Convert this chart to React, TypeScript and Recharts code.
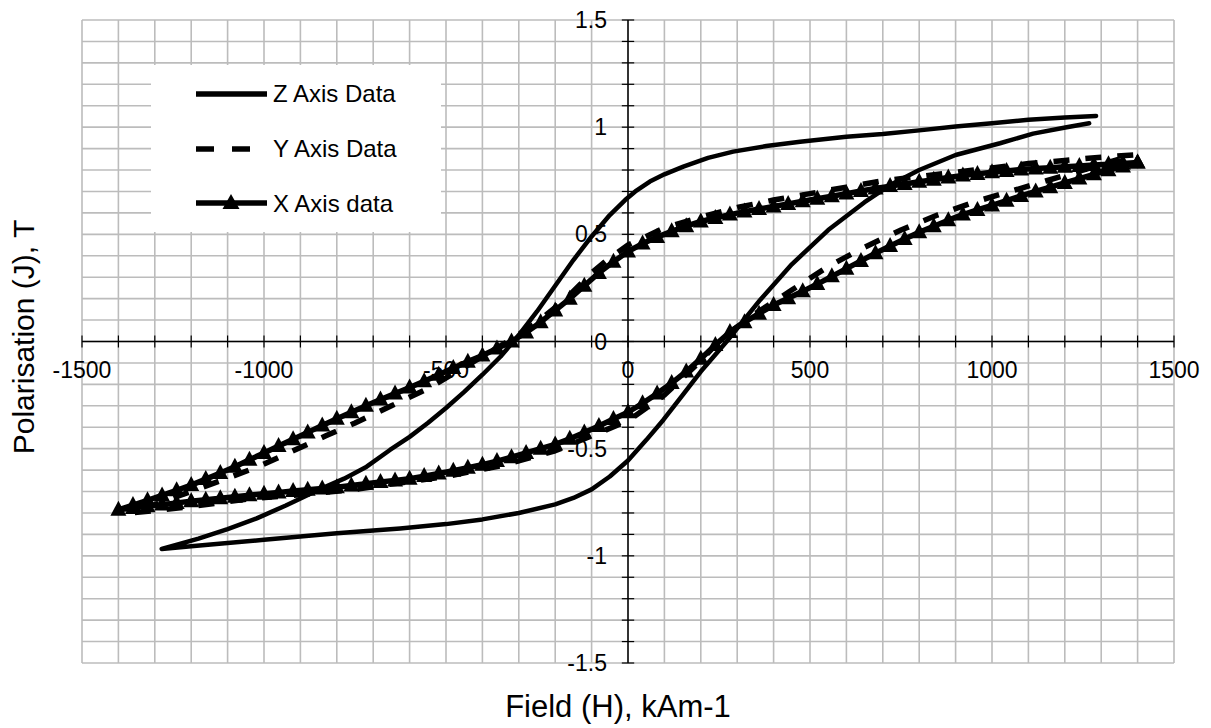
import React from 'react';
import { LineChart, Line, XAxis, YAxis, CartesianGrid, ReferenceLine, ReferenceDot } from 'recharts';

const FONT = '"Liberation Sans", Arial, Helvetica, sans-serif';

// grid / tick positions
const xGridTicks = [-1500, -1400, -1300, -1200, -1100, -1000, -900, -800, -700, -600, -500, -400, -300, -200, -100, 0, 100, 200, 300, 400, 500, 600, 700, 800, 900, 1000, 1100, 1200, 1300, 1400, 1500];
const yGridTicks = [-1.5, -1.4, -1.3, -1.2, -1.1, -1.0, -0.9, -0.8, -0.7, -0.6, -0.5, -0.4, -0.3, -0.2, -0.1, 0, 0.1, 0.2, 0.3, 0.4, 0.5, 0.6, 0.7, 0.8, 0.9, 1.0, 1.1, 1.2, 1.3, 1.4, 1.5];
const xLabelValues = [-1500, -1000, -500, 0, 500, 1000, 1500];
const xLabelTexts = ['-1500', '-1000', '-500', '0', '500', '1000', '1500'];
const yLabelValues = [-1.5, -1, -0.5, 0, 0.5, 1, 1.5];
const yLabelTexts = ['-1.5', '-1', '-0.5', '0', '0.5', '1', '1.5'];

// Z Axis Data (solid) : upper branch (descending field) then lower branch (ascending field)
const zUpperH = [1286, 1200, 1100, 1000, 900, 800, 700, 600, 473, 380, 289, 220, 152, 100, 60, 20, -8, -50, -100, -150, -200, -250, -300, -350, -400, -450, -500, -550, -600, -654, -718, -780, -855, -940, -1020, -1100, -1180, -1281];
const zUpperJ = [1.052, 1.045, 1.035, 1.018, 1.003, 0.985, 0.968, 0.955, 0.932, 0.912, 0.886, 0.857, 0.816, 0.78, 0.746, 0.70, 0.66, 0.59, 0.49, 0.38, 0.26, 0.14, 0.03, -0.07, -0.155, -0.235, -0.31, -0.38, -0.445, -0.506, -0.584, -0.64, -0.696, -0.765, -0.825, -0.875, -0.92, -0.968];
const zLowerH = [-1200, -1100, -1000, -900, -800, -700, -626, -500, -400, -300, -200, -150, -100, -50, 0, 50, 97, 150, 200, 271, 363, 450, 550, 650, 720, 800, 900, 1022, 1113, 1205, 1267];
const zLowerJ = [-0.955, -0.94, -0.925, -0.91, -0.895, -0.882, -0.872, -0.852, -0.83, -0.80, -0.76, -0.73, -0.69, -0.63, -0.555, -0.46, -0.366, -0.25, -0.14, 0.0, 0.194, 0.36, 0.52, 0.65, 0.73, 0.80, 0.87, 0.925, 0.97, 1.0, 1.018];

// Y Axis Data (dashed)
const yUpperH = [1388, 1300, 1200, 1100, 1000, 900, 800, 700, 600, 500, 400, 300, 200, 100, 0, -50, -100, -170, -250, -330, -450, -550, -650, -750, -830, -920, -1010, -1120, -1250, -1364];
const yUpperJ = [0.87, 0.86, 0.845, 0.83, 0.81, 0.79, 0.77, 0.75, 0.72, 0.69, 0.66, 0.625, 0.58, 0.53, 0.45, 0.39, 0.32, 0.20, 0.09, 0.0, -0.12, -0.22, -0.30, -0.38, -0.44, -0.51, -0.58, -0.65, -0.73, -0.80];
const yLowerH = [-1200, -1047, -900, -750, -650, -500, -350, -200, -100, 0, 100, 200, 260, 350, 450, 550, 650, 750, 850, 950, 1050, 1150, 1250, 1388];
const yLowerJ = [-0.77, -0.735, -0.715, -0.69, -0.665, -0.63, -0.58, -0.51, -0.44, -0.37, -0.25, -0.09, 0.02, 0.13, 0.24, 0.35, 0.44, 0.52, 0.59, 0.65, 0.70, 0.75, 0.80, 0.87];

// X Axis data (line with triangle markers)
const xUpperH = [1400, 1360, 1320, 1280, 1240, 1200, 1160, 1120, 1080, 1040, 1000, 960, 920, 880, 840, 800, 760, 720, 680, 640, 600, 560, 520, 480, 440, 400, 360, 320, 280, 240, 200, 160, 120, 80, 40, 0, -40, -80, -120, -160, -200, -240, -280, -320, -360, -400, -440, -480, -520, -560, -600, -640, -680, -720, -760, -800, -840, -880, -920, -960, -1000, -1040, -1080, -1120, -1160, -1200, -1240, -1280, -1320, -1360, -1400];
const xUpperJ = [0.835, 0.831, 0.827, 0.823, 0.819, 0.815, 0.811, 0.807, 0.802, 0.796, 0.790, 0.782, 0.774, 0.765, 0.755, 0.745, 0.735, 0.725, 0.714, 0.702, 0.690, 0.678, 0.666, 0.654, 0.642, 0.630, 0.618, 0.606, 0.592, 0.576, 0.560, 0.538, 0.514, 0.487, 0.457, 0.420, 0.372, 0.320, 0.260, 0.200, 0.145, 0.090, 0.042, 0.000, -0.033, -0.065, -0.094, -0.124, -0.155, -0.185, -0.215, -0.243, -0.271, -0.300, -0.330, -0.360, -0.392, -0.424, -0.456, -0.488, -0.520, -0.552, -0.584, -0.614, -0.642, -0.670, -0.694, -0.718, -0.741, -0.763, -0.785];
const xLowerH = [-1360, -1320, -1280, -1240, -1200, -1160, -1120, -1080, -1040, -1000, -960, -920, -880, -840, -800, -760, -720, -680, -640, -600, -560, -520, -480, -440, -400, -360, -320, -280, -240, -200, -160, -120, -80, -40, 0, 40, 80, 120, 160, 200, 240, 280, 320, 360, 400, 440, 480, 520, 560, 600, 640, 680, 720, 760, 800, 840, 880, 920, 960, 1000, 1040, 1080, 1120, 1160, 1200, 1240, 1280, 1320, 1360, 1400];
const xLowerJ = [-0.777, -0.769, -0.761, -0.753, -0.745, -0.738, -0.731, -0.724, -0.717, -0.710, -0.704, -0.698, -0.692, -0.686, -0.680, -0.672, -0.664, -0.656, -0.648, -0.640, -0.628, -0.616, -0.603, -0.589, -0.575, -0.558, -0.540, -0.520, -0.500, -0.480, -0.454, -0.425, -0.394, -0.362, -0.330, -0.288, -0.243, -0.194, -0.140, -0.080, -0.016, 0.044, 0.090, 0.130, 0.170, 0.202, 0.234, 0.268, 0.304, 0.340, 0.376, 0.412, 0.446, 0.478, 0.510, 0.538, 0.566, 0.592, 0.614, 0.635, 0.657, 0.679, 0.700, 0.720, 0.740, 0.760, 0.780, 0.799, 0.817, 0.835];

const seriesNames = ['Z Axis Data', 'Y Axis Data', 'X Axis data'];

const toPoints = (hs: number[], js: number[]) => hs.map((h, i) => ({ h, j: js[i] }));

const TICK_HALF_J = 0.028;
const TICK_HALF_H = 17;

const TriangleDot = (props: any) => {
  const { cx, cy, index } = props;
  if (cx == null || cy == null) return <g key={`t${index}`} />;
  return <path key={`t${index}`} d={`M${cx},${cy - 9}L${cx + 8},${cy + 6}L${cx - 8},${cy + 6}Z`} fill="#000" />;
};

export default function App() {
  const zData = [...toPoints(zUpperH, zUpperJ), ...toPoints(zLowerH, zLowerJ)];
  const yData = [...toPoints(yUpperH, yUpperJ), ...toPoints(yLowerH, yLowerJ)];
  const xData = [...toPoints(xUpperH, xUpperJ), ...toPoints(xLowerH, xLowerJ)];

  return (
    <div style={{ position: 'absolute', left: 0, top: 0, width: 1211, height: 728, background: '#fff', fontFamily: FONT }}>
      <LineChart width={1211} height={728} margin={{ top: 20, right: 37, bottom: 65, left: 82 }}>
        <XAxis type="number" dataKey="h" domain={[-1500, 1500]} ticks={xGridTicks} interval={0} hide />
        <YAxis type="number" dataKey="j" domain={[-1.5, 1.5]} ticks={yGridTicks} interval={0} hide />
        <CartesianGrid stroke="#bcbcbc" strokeWidth={1.6} />
        <ReferenceLine y={0} stroke="#000" strokeWidth={1.5} />
        <ReferenceLine x={0} stroke="#000" strokeWidth={1.5} />
        {xGridTicks.map((v) => (
          <ReferenceLine key={`xt${v}`} segment={[{ x: v, y: -TICK_HALF_J }, { x: v, y: TICK_HALF_J }]} stroke="#000" strokeWidth={1.2} />
        ))}
        {yGridTicks.map((v) => (
          <ReferenceLine key={`yt${v}`} segment={[{ x: -TICK_HALF_H, y: v }, { x: TICK_HALF_H, y: v }]} stroke="#000" strokeWidth={1.2} />
        ))}
        {xLabelValues.map((v, i) => (
          <ReferenceDot key={`xl${v}`} x={v} y={0} r={0} fill="none" stroke="none"
            label={{ value: xLabelTexts[i], position: 'bottom', offset: 20, fill: '#000', fontSize: 23, fontFamily: FONT }} />
        ))}
        {yLabelValues.map((v, i) => (
          <ReferenceDot key={`yl${v}`} x={0} y={v} r={0} fill="none" stroke="none"
            label={{ value: yLabelTexts[i], position: 'left', offset: 21, fill: '#000', fontSize: 23, fontFamily: FONT }} />
        ))}
        <Line data={zData} dataKey="j" name={seriesNames[0]} type="linear" stroke="#000" strokeWidth={4.5} dot={false} isAnimationActive={false} strokeLinejoin="round" strokeLinecap="round" />
        <Line data={yData} dataKey="j" name={seriesNames[1]} type="linear" stroke="#000" strokeWidth={5.5} strokeDasharray="16 16" dot={false} isAnimationActive={false} strokeLinejoin="round" />
        <Line data={xData} dataKey="j" name={seriesNames[2]} type="linear" stroke="#000" strokeWidth={5.5} dot={TriangleDot} isAnimationActive={false} strokeLinejoin="round" />
      </LineChart>
      <svg width={1211} height={728} style={{ position: 'absolute', left: 0, top: 0, pointerEvents: 'none' }}>
        <rect x={151} y={65} width={290} height={167} fill="#fff" />
        <line x1={196} y1={94} x2={267} y2={94} stroke="#000" strokeWidth={5.5} />
        <text x={273} y={102} fontSize={24} fontFamily={FONT} fill="#000">{seriesNames[0]}</text>
        <line x1={196} y1={149} x2={267} y2={149} stroke="#000" strokeWidth={5.5} strokeDasharray="18 18" />
        <text x={273} y={157} fontSize={24} fontFamily={FONT} fill="#000">{seriesNames[1]}</text>
        <line x1={196} y1={203} x2={267} y2={203} stroke="#000" strokeWidth={5.5} />
        <path d="M231,194 L239.5,209 L222.5,209 Z" fill="#000" />
        <text x={273} y={212} fontSize={24} fontFamily={FONT} fill="#000">{seriesNames[2]}</text>
        <text x={618} y={717} fontSize={31} fontFamily={FONT} fill="#000" textAnchor="middle">Field (H), kAm-1</text>
        <text transform="translate(34,337) rotate(-90)" x={0} y={0} fontSize={30} fontFamily={FONT} fill="#000" textAnchor="middle">Polarisation (J), T</text>
      </svg>
    </div>
  );
}
